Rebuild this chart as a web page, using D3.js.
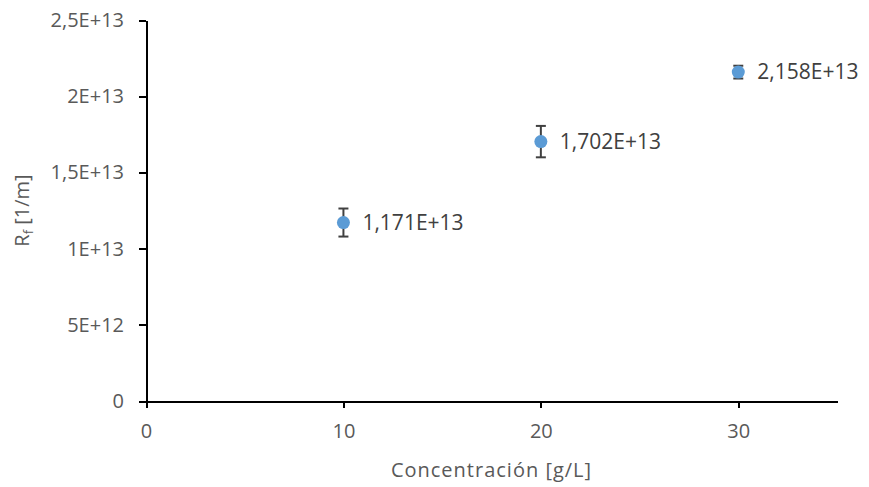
<!doctype html>
<html>
<head>
    <meta charset="utf-8">
    <script src="https://cdnjs.cloudflare.com/ajax/libs/d3/7.8.5/d3.min.js"></script>
    <style>
        body { margin: 0; background: #fff; }
        .axis text { font: 20px "Open Sans", sans-serif; fill: #595959; }
        .axis line, .axis path { stroke: #000; stroke-width: 2px; shape-rendering: crispEdges; }
        .lbl { font: 21px "Open Sans", sans-serif; fill: #404040; }
        .title { font: 20px "Open Sans", sans-serif; fill: #595959; }
    </style>
</head>
<body>
<script>
    // concentracion [g/L], Rf [1/m], error (+/-)
    var conc = [10, 20, 30];
    var rf = [1.171e13, 1.702e13, 2.158e13];
    var err = [0.092e13, 0.103e13, 0.042e13];
    var labels = ["1,171E+13", "1,702E+13", "2,158E+13"];
    var yTicks = [0, 5e12, 1e13, 1.5e13, 2e13, 2.5e13];
    var yTickLabels = ["0", "5E+12", "1E+13", "1,5E+13", "2E+13", "2,5E+13"];
    var xTicks = [0, 10, 20, 30];

    var W = 869, H = 487;
    var margin = {top: 20, right: 32, bottom: 86, left: 146},
        width = W - margin.left - margin.right,
        height = H - margin.top - margin.bottom;

    var svg = d3.select("body").append("svg")
        .attr("width", W)
        .attr("height", H);
    var g = svg.append("g")
        .attr("transform", "translate(" + margin.left + "," + margin.top + ")");

    var x = d3.scaleLinear().domain([0, 35]).range([0, width]);
    var y = d3.scaleLinear().domain([0, 2.5e13]).range([height, 0]);

    var yAxis = d3.axisLeft(y)
        .tickValues(yTicks)
        .tickSize(7)
        .tickPadding(15)
        .tickSizeOuter(0)
        .tickFormat(function(d, i) { return yTickLabels[i]; });
    var xAxis = d3.axisBottom(x)
        .tickValues(xTicks)
        .tickSize(7)
        .tickPadding(16)
        .tickSizeOuter(0);

    g.append("g").attr("class", "x axis")
        .attr("transform", "translate(0," + height + ")")
        .call(xAxis);
    g.append("g").attr("class", "y axis")
        .call(yAxis);

    // error bars
    var eb = g.selectAll(".eb").data(conc).enter().append("g")
        .attr("stroke", "#404040")
        .attr("stroke-width", 2);
    eb.append("line")
        .attr("x1", function(d) { return x(d); })
        .attr("x2", function(d) { return x(d); })
        .attr("y1", function(d, i) { return y(rf[i] - err[i]); })
        .attr("y2", function(d, i) { return y(rf[i] + err[i]); });
    [-1, 1].forEach(function(s) {
        eb.append("line")
            .attr("x1", function(d) { return x(d) - 5; })
            .attr("x2", function(d) { return x(d) + 5; })
            .attr("y1", function(d, i) { return y(rf[i] + s * err[i]); })
            .attr("y2", function(d, i) { return y(rf[i] + s * err[i]); });
    });

    g.selectAll(".pt").data(conc).enter().append("circle")
        .attr("cx", function(d) { return x(d); })
        .attr("cy", function(d, i) { return y(rf[i]); })
        .attr("r", 6.5)
        .attr("fill", "#5B9BD5");

    g.selectAll(".lbl").data(conc).enter().append("text")
        .attr("class", "lbl")
        .attr("x", function(d) { return x(d) + 19; })
        .attr("y", function(d, i) { return y(rf[i]); })
        .attr("dy", "0.35em")
        .text(function(d, i) { return labels[i]; });

    svg.append("text")
        .attr("class", "title")
        .attr("x", margin.left + width / 2)
        .attr("y", 477)
        .attr("text-anchor", "middle")
        .attr("letter-spacing", "1")
        .text("Concentración [g/L]");

    var yt = svg.append("text")
        .attr("class", "title")
        .attr("transform", "translate(29," + (margin.top + height / 2) + ") rotate(-90)")
        .attr("text-anchor", "middle");
    yt.append("tspan").text("R");
    yt.append("tspan").attr("font-size", "13px").attr("dy", "4").text("f");
    yt.append("tspan").attr("dy", "-4").text(" [1/m]");
</script>
</body>
</html>
